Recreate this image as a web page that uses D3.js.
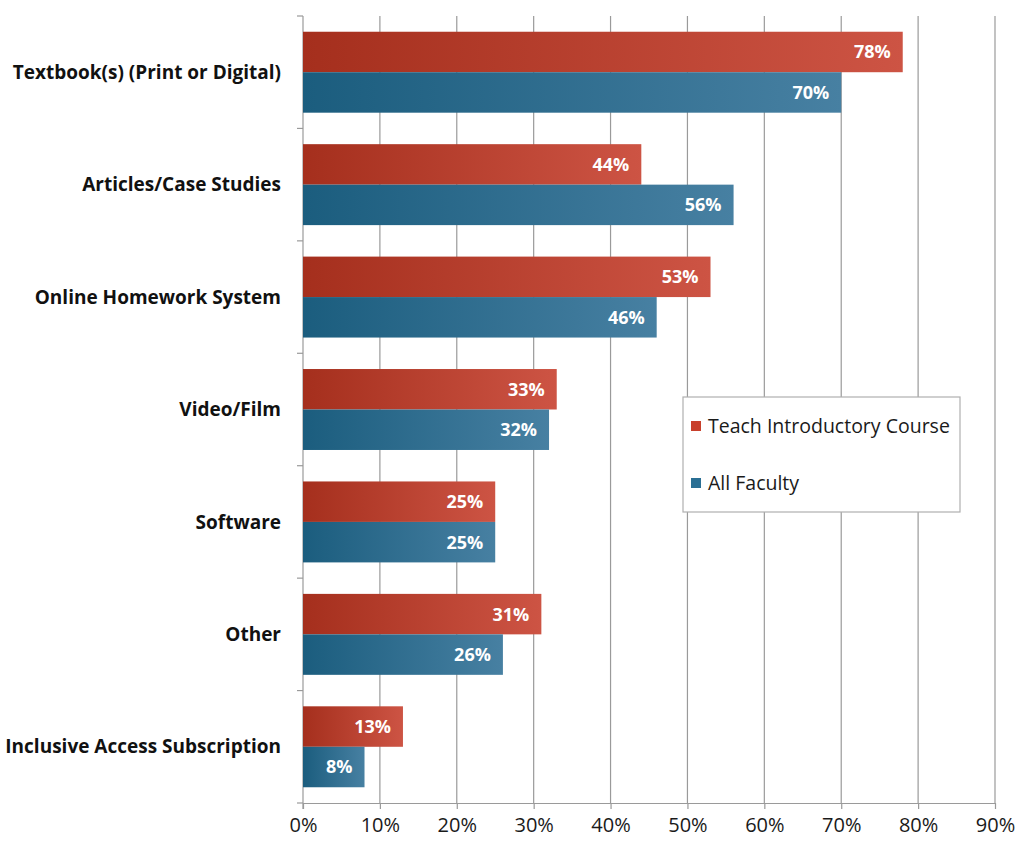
<!DOCTYPE html>
<html>
<head>
<meta charset="utf-8">
<script src="https://cdn.jsdelivr.net/npm/d3@7"></script>
<style>
body { margin: 0; background: #fff; }
svg text { font-family: "Open Sans", "Noto Sans", sans-serif; }
</style>
</head>
<body>
<script>
(function(){

//chart data
var categories = ["Textbook(s) (Print or Digital)", "Articles/Case Studies", "Online Homework System",
                  "Video/Film", "Software", "Other", "Inclusive Access Subscription"];
var seriesNames = ["Teach Introductory Course", "All Faculty"];
var introValues = [78, 44, 53, 33, 25, 31, 13];
var allValues = [70, 56, 46, 32, 25, 26, 8];
var xTicks = [0, 10, 20, 30, 40, 50, 60, 70, 80, 90];

var width = 1019, height = 842;
var margin = {top: 16, right: 24, bottom: 39, left: 303};

var svg = d3.select("body").append("svg")
    .attr("width", width)
    .attr("height", height);

//gradients for the bars, darker on the left
var defs = svg.append("defs");
var grads = [
    {id: "gradRed", from: "#a52f1d", to: "#cd5444"},
    {id: "gradBlue", from: "#1b5d7e", to: "#4780a2"}
];
grads.forEach(function(g){
    var lg = defs.append("linearGradient").attr("id", g.id)
        .attr("x1", "0%").attr("x2", "100%").attr("y1", "0%").attr("y2", "0%");
    lg.append("stop").attr("offset", "0%").attr("stop-color", g.from);
    lg.append("stop").attr("offset", "100%").attr("stop-color", g.to);
});

var x = d3.scaleLinear()
    .domain([0, 90])
    .range([303, 995]);

var y = d3.scaleBand()
    .domain(categories)
    .range([margin.top, height - margin.bottom])
    .paddingInner(0.28)
    .paddingOuter(0.14);

var ySub = d3.scaleBand()
    .domain(seriesNames)
    .range([0, y.bandwidth()]);

var plotBottom = height - margin.bottom;

//vertical grid lines
svg.append("g").selectAll("line")
    .data(xTicks.slice(1))
    .enter().append("line")
    .attr("x1", function(d){ return x(d); })
    .attr("x2", function(d){ return x(d); })
    .attr("y1", margin.top)
    .attr("y2", plotBottom)
    .attr("stroke", "#9a9a9a")
    .attr("stroke-width", 1.2);

//bottom axis
var xAxis = svg.append("g")
    .attr("transform", "translate(0," + plotBottom + ")")
    .call(d3.axisBottom(x).tickValues(xTicks)
        .tickFormat(function(d){ return d + "%"; })
        .tickSize(6).tickSizeOuter(0).tickPadding(9));
xAxis.select(".domain").attr("stroke", "#9a9a9a").attr("stroke-width", 1.2);
xAxis.selectAll(".tick line").attr("stroke", "#9a9a9a").attr("stroke-width", 1.2);
xAxis.selectAll("text")
    .attr("fill", "#1a1a1a")
    .style("font-size", "20px");

//left axis with ticks between categories
var bounds = d3.range(categories.length + 1).map(function(i){
    return margin.top + i * (plotBottom - margin.top) / categories.length;
});
svg.append("line")
    .attr("x1", x(0)).attr("x2", x(0))
    .attr("y1", margin.top).attr("y2", plotBottom + 6)
    .attr("stroke", "#9a9a9a").attr("stroke-width", 1.2);
svg.append("g").selectAll("line")
    .data(bounds)
    .enter().append("line")
    .attr("x1", x(0) - 6).attr("x2", x(0))
    .attr("y1", function(d){ return d; })
    .attr("y2", function(d){ return d; })
    .attr("stroke", "#9a9a9a").attr("stroke-width", 1.2);

//category labels
svg.append("g").selectAll("text")
    .data(categories)
    .enter().append("text")
    .attr("x", 281)
    .attr("y", function(d){ return y(d) + y.bandwidth() / 2; })
    .attr("dy", "0.35em")
    .attr("text-anchor", "end")
    .attr("fill", "#111")
    .style("font-size", "19px")
    .style("font-weight", "bold")
    .text(function(d){ return d; });

//bars
var rows = categories.map(function(c, i){
    return {cat: c, values: [
        {name: seriesNames[0], value: introValues[i], fill: "url(#gradRed)"},
        {name: seriesNames[1], value: allValues[i], fill: "url(#gradBlue)"}
    ]};
});

var groups = svg.append("g").selectAll("g")
    .data(rows)
    .enter().append("g")
    .attr("transform", function(d){ return "translate(0," + y(d.cat) + ")"; });

groups.selectAll("rect")
    .data(function(d){ return d.values; })
    .enter().append("rect")
    .attr("x", x(0))
    .attr("y", function(d){ return ySub(d.name); })
    .attr("width", function(d){ return x(d.value) - x(0); })
    .attr("height", ySub.bandwidth())
    .attr("fill", function(d){ return d.fill; });

groups.selectAll("text")
    .data(function(d){ return d.values; })
    .enter().append("text")
    .attr("x", function(d){ return x(d.value) - 12; })
    .attr("y", function(d){ return ySub(d.name) + ySub.bandwidth() / 2; })
    .attr("dy", "0.36em")
    .attr("text-anchor", "end")
    .attr("fill", "#fff")
    .style("font-size", "18px")
    .style("font-weight", "bold")
    .text(function(d){ return d.value + "%"; });

//legend
var legend = svg.append("g").attr("transform", "translate(683,397)");
legend.append("rect")
    .attr("width", 277).attr("height", 115)
    .attr("fill", "#fff")
    .attr("stroke", "#b0b0b0").attr("stroke-width", 1.2);
var legendColors = ["#c8402c", "#2a6f94"];
seriesNames.forEach(function(name, i){
    var ly = 29 + i * 57;
    legend.append("rect")
        .attr("x", 8).attr("y", ly - 5)
        .attr("width", 10).attr("height", 10)
        .attr("fill", legendColors[i]);
    legend.append("text")
        .attr("x", 25).attr("y", ly)
        .attr("dy", "0.35em")
        .attr("fill", "#1a1a1a")
        .style("font-size", "19.5px")
        .text(name);
});

})();
</script>
</body>
</html>
